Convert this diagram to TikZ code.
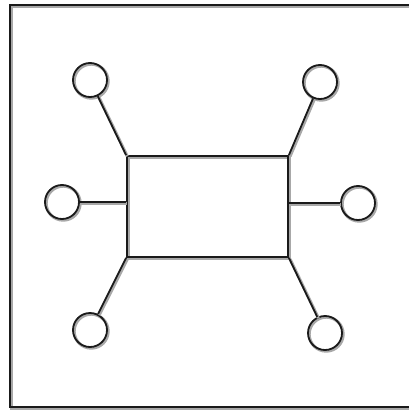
\documentclass[tikz,border=0pt]{standalone}
\usepackage{tikz}
\usetikzlibrary{positioning}
\definecolor{dink}{HTML}{1A1A1A}
\definecolor{dsha}{HTML}{A8A8A8}
\tikzset{
  shade/.style ={preaction={draw=dsha, line width=3pt,
                 transform canvas={shift={(1.2pt,-1.2pt)}}}},
  hub/.style   ={rectangle, draw=dink, line width=1.8pt, shade,
                 minimum width=161pt, minimum height=101pt, inner sep=0pt},
  leaf/.style  ={circle, draw=dink, line width=1.8pt, shade,
                 minimum size=34pt, inner sep=0pt},
  link/.style  ={draw=dink, line width=1.8pt, shade},
  frame/.style ={draw=dink, line width=2pt, shade},
}
\begin{document}
\begin{tikzpicture}[x=1pt,y=-1pt]
  \useasboundingbox (0,0) rectangle (409,412);
  \draw[frame] (10,5) rectangle (418,407);
  \node[hub] (core) at (207.5,206.5) {};
  \node[leaf] (nw) at (90,80) {};
  \node[leaf] (ne) at (320,82) {};
  \node[leaf] (w)  at (62,202) {};
  \node[leaf] (e)  at (358,203) {};
  \node[leaf] (sw) at (90,330) {};
  \node[leaf] (se) at (325,333) {};
  \draw[link] (nw) -- (core.north west);
  \draw[link] (ne) -- (core.north east);
  \draw[link] (w) -- (w -| core.west);
  \draw[link] (e) -- (e -| core.east);
  \draw[link] (sw) -- (core.south west);
  \draw[link] (se) -- (core.south east);
\end{tikzpicture}
\end{document}
